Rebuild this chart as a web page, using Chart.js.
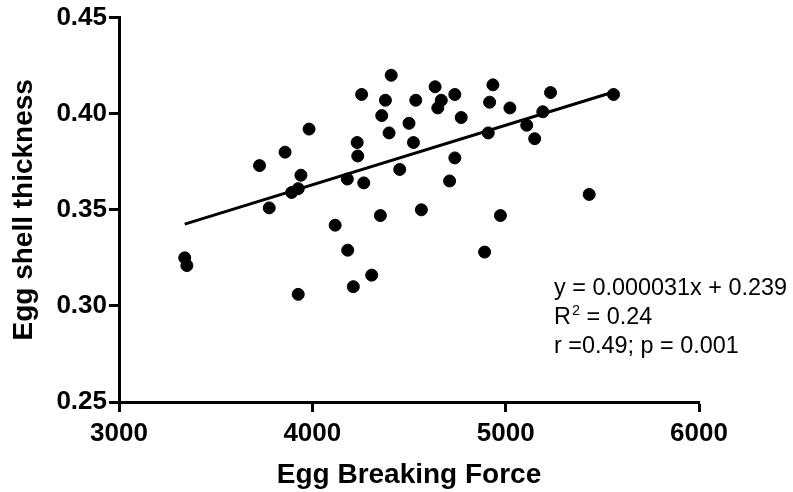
<!DOCTYPE html>
<html>
<head>
<meta charset="utf-8">
<script src="https://cdn.jsdelivr.net/npm/chart.js@4/dist/chart.umd.min.js"></script>
<style>
  html, body { margin: 0; padding: 0; background: #fff; }
  #wrap { width: 793px; height: 492px; }
</style>
</head>
<body>
<div id="wrap"><canvas id="chart" width="793" height="492"></canvas></div>
<script>
// Egg breaking force (N) for each egg
const breakingForce = [
  3340, 3351, 3727, 3777, 3859, 3893, 3927, 3927, 3941, 3983,
  4118, 4181, 4183, 4212, 4232, 4235, 4255, 4266, 4307, 4352,
  4359, 4378, 4397, 4408, 4452, 4500, 4523, 4535, 4564, 4635,
  4649, 4667, 4710, 4737, 4737, 4770, 4891, 4910, 4917, 4934,
  4973, 5022, 5109, 5150, 5192, 5232, 5432, 5558
];
// Egg shell thickness (mm) for the same eggs
const shellThickness = [
  0.325, 0.321, 0.373, 0.351, 0.380, 0.359, 0.361, 0.306, 0.368, 0.392,
  0.342, 0.366, 0.329, 0.310, 0.385, 0.378, 0.410, 0.364, 0.316, 0.347,
  0.399, 0.407, 0.390, 0.420, 0.371, 0.395, 0.385, 0.407, 0.350, 0.414,
  0.403, 0.407, 0.365, 0.377, 0.410, 0.398, 0.328, 0.390, 0.406, 0.415,
  0.347, 0.403, 0.394, 0.387, 0.401, 0.411, 0.358, 0.410
];
const xTicks = [3000, 4000, 5000, 6000];
const yTicks = [0.25, 0.30, 0.35, 0.40, 0.45];

// Linear fit as reported
const fitSlope = 0.000031;
const fitIntercept = 0.239;
const fitEquation = 'y = 0.000031x + 0.239';
const rSquared = '0.24';
const corrText = 'r =0.49; p = 0.001';

const xMin = Math.min(...breakingForce);
const xMax = Math.max(...breakingForce);
const fitLine = [xMin, xMax].map(x => ({ x: x, y: fitSlope * x + fitIntercept }));
const points = breakingForce.map((x, i) => ({ x: x, y: shellThickness[i] }));

const FAMILY = '"Liberation Sans", Arial, sans-serif';
const boldTick = { family: FAMILY, weight: 'bold', size: 26 };
const boldTitle = { family: FAMILY, weight: 'bold', size: 28 };

// Fit statistics printed in the lower right of the plot
const statsText = {
  id: 'statsText',
  afterDraw(chart) {
    const ctx = chart.ctx;
    ctx.save();
    ctx.fillStyle = '#000';
    ctx.textBaseline = 'alphabetic';
    ctx.textAlign = 'left';
    ctx.font = '23px ' + FAMILY;
    const size = 23 * 233 / ctx.measureText(fitEquation).width;
    const font = s => s.toFixed(2) + 'px ' + FAMILY;
    const left = 554, base = 295, step = 29;

    ctx.font = font(size);
    ctx.fillText(fitEquation, left, base);

    // R with a raised, smaller 2
    let x = left;
    ctx.fillText('R', x, base + step);
    x += ctx.measureText('R').width + 1;
    ctx.font = font(size * 0.62);
    ctx.fillText('2', x, base + step - size * 0.4);
    x += ctx.measureText('2').width;
    ctx.font = font(size);
    ctx.fillText(' = ' + rSquared, x, base + step);

    ctx.fillText(corrText, left, base + 2 * step);
    ctx.restore();
  }
};

new Chart(document.getElementById('chart'), {
  type: 'scatter',
  data: {
    datasets: [
      {
        label: 'Eggs',
        data: points,
        backgroundColor: '#000',
        borderColor: '#000',
        borderWidth: 1,
        pointRadius: 6,
        pointHoverRadius: 6,
        order: 1
      },
      {
        label: 'Fit',
        type: 'line',
        data: fitLine,
        borderColor: '#000',
        borderWidth: 3,
        pointRadius: 0,
        fill: false,
        order: 2
      }
    ]
  },
  options: {
    responsive: false,
    animation: false,
    events: [],
    layout: { padding: { top: 17, right: 94, left: 0, bottom: 0 } },
    plugins: { legend: { display: false }, tooltip: { enabled: false } },
    scales: {
      x: {
        type: 'linear',
        min: xTicks[0],
        max: xTicks[xTicks.length - 1],
        afterBuildTicks: s => { s.ticks = xTicks.map(v => ({ value: v })); },
        afterFit: s => { s.height = 90; },
        ticks: { font: boldTick, color: '#000', padding: 6, maxRotation: 0, callback: v => String(v) },
        grid: { drawOnChartArea: false, tickLength: 10, tickWidth: 3, tickColor: '#000' },
        border: { display: true, color: '#000', width: 3 },
        title: { display: true, text: 'Egg Breaking Force', font: boldTitle, color: '#000', padding: 0 }
      },
      y: {
        type: 'linear',
        min: yTicks[0],
        max: yTicks[yTicks.length - 1],
        afterBuildTicks: s => { s.ticks = yTicks.map(v => ({ value: v })); },
        afterFit: s => { s.width = 119; },
        ticks: { font: boldTick, color: '#000', padding: 2, callback: v => v.toFixed(2) },
        grid: { drawOnChartArea: false, tickLength: 10, tickWidth: 3, tickColor: '#000' },
        border: { display: true, color: '#000', width: 3 },
        title: { display: true, text: 'Egg shell thickness', font: boldTitle, color: '#000', padding: { top: 7, bottom: 0 } }
      }
    }
  },
  plugins: [statsText]
});
</script>
</body>
</html>
